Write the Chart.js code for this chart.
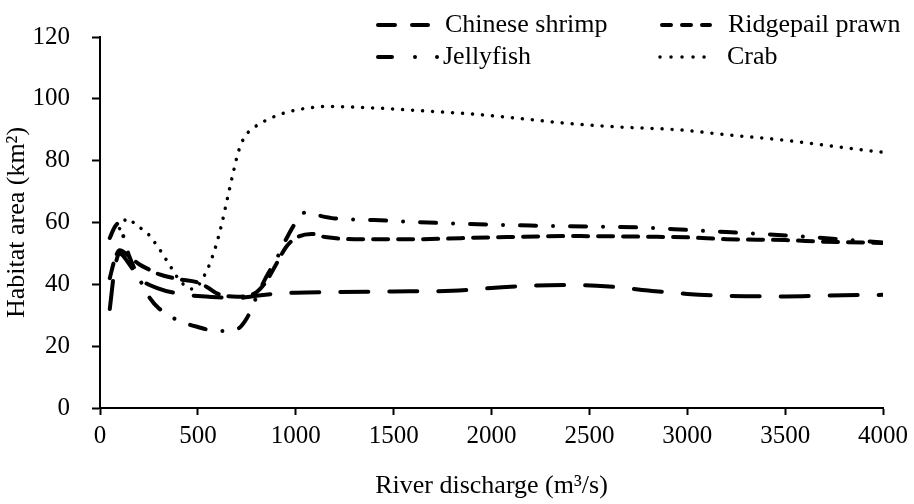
<!DOCTYPE html>
<html>
<head>
<meta charset="utf-8">
<script src="https://cdn.jsdelivr.net/npm/chart.js@4.4.1/dist/chart.umd.min.js"></script>
<style>
  html, body { margin: 0; padding: 0; background: #fff; }
  #wrap { width: 914px; height: 504px; }
</style>
</head>
<body>
<div id="wrap"><canvas id="chart" width="914" height="504"></canvas></div>
<script>
/* ---------- Data ---------- */
const seriesNames = ["Chinese shrimp", "Ridgepail prawn", "Jellyfish", "Crab"];

const shrimpQ    = [50, 75, 100, 150, 200, 300, 400, 500, 600, 700, 800, 900, 1000, 1200, 1500, 1800, 2000, 2200, 2400, 2600, 2800, 3000, 3200, 3500, 3800, 4000];
const shrimpArea = [32, 45, 50, 46.5, 42, 38.6, 37, 36.2, 35.8, 35.6, 36.3, 37, 37.3, 37.5, 37.7, 37.9, 38.8, 39.6, 39.8, 39.3, 38, 36.9, 36.3, 36.1, 36.5, 36.6];

const prawnQ    = [50, 75, 100, 150, 200, 250, 300, 400, 500, 550, 600, 700, 800, 850, 900, 950, 1000, 1080, 1150, 1300, 1600, 2000, 2400, 2800, 3000, 3200, 3500, 3700, 4000];
const prawnArea = [42, 48, 51, 49, 46.5, 44.8, 43.3, 41.7, 40.6, 39, 37, 36, 37.5, 41, 46.5, 52, 55, 56.3, 55.3, 54.6, 54.6, 55.2, 55.6, 55.4, 55.2, 54.6, 54.3, 53.8, 53.4];

const jellyQ    = [50, 75, 100, 125, 150, 200, 250, 300, 400, 500, 600, 700, 750, 800, 850, 900, 950, 1000, 1050, 1100, 1200, 1400, 1600, 1800, 2000, 2200, 2400, 2600, 2800, 3000, 3200, 3400, 3600, 3800, 4000];
const jellyArea = [55, 58.5, 60, 54, 49, 42, 36, 32.3, 28.3, 26.2, 24.9, 25.5, 29, 36, 42.5, 48, 54.5, 60, 63.3, 62.5, 61.3, 60.8, 60.2, 59.7, 59.3, 59, 58.8, 58.6, 58.3, 57.6, 56.9, 56.2, 55.4, 54.5, 53.5];

const crabQ    = [100, 140, 180, 220, 250, 280, 310, 340, 370, 400, 430, 470, 500, 530, 560, 590, 620, 650, 680, 710, 740, 780, 860, 950, 1050, 1150, 1250, 1450, 1650, 1900, 2150, 2400, 2650, 2950, 3200, 3500, 3750, 4000];
const crabArea = [58, 61.3, 59.5, 57.6, 56, 53.5, 50.8, 47.8, 44.8, 41.8, 39.8, 38.5, 39.5, 42.5, 46.5, 52, 59, 67.5, 76, 83.5, 87.8, 90.4, 93.4, 95.6, 96.9, 97.5, 97.4, 96.9, 96.1, 95.1, 93.6, 92, 90.9, 90, 88.4, 86.6, 84.6, 82.7];

const xTicks = [0, 500, 1000, 1500, 2000, 2500, 3000, 3500, 4000];
const yTicks = [0, 20, 40, 60, 80, 100, 120];

/* ---------- Helpers ---------- */
const FONT = "'Liberation Serif', 'Times New Roman', serif";

function pairs(xs, ys) {
  return xs.map((x, i) => ({x: x, y: ys[i]}));
}

// line look per series: width, dash pattern (round caps)
const STYLE = [
  {width: 4,   dash: [28, 21]},
  {width: 4,   dash: [15, 10]},
  {width: 4,   dash: [16, 17, 0.01, 17]},
  {width: 3.5, dash: [0.01, 10]}
];

// legend placed inside the plot, two columns
const LEGEND_POS = [
  {x1: 378, x2: 428, y: 25, tx: 445, dash: [17, 17]},
  {x1: 662, x2: 710, y: 25, tx: 728, dash: [9, 11]},
  {x1: 378, x2: 438, y: 57, tx: 443, dash: [14, 23, 0.01, 22, 0.01, 100]},
  {x1: 660, x2: 715, y: 57, tx: 727, dash: [0.01, 11]}
];

const insideLegend = {
  id: "insideLegend",
  afterDraw(chart) {
    const ctx = chart.ctx;
    ctx.save();
    LEGEND_POS.forEach((p, i) => {
      ctx.strokeStyle = "#000";
      ctx.lineWidth = STYLE[i].width;
      ctx.lineCap = "round";
      ctx.setLineDash(p.dash);
      ctx.beginPath();
      ctx.moveTo(p.x1, p.y);
      ctx.lineTo(p.x2, p.y);
      ctx.stroke();
      ctx.setLineDash([]);
      ctx.fillStyle = "#000";
      ctx.font = "26px " + FONT;
      ctx.textBaseline = "middle";
      ctx.textAlign = "left";
      ctx.fillText(seriesNames[i], p.tx, p.y);
    });
    ctx.restore();
  }
};

/* ---------- Chart ---------- */
const seriesData = [
  pairs(shrimpQ, shrimpArea),
  pairs(prawnQ, prawnArea),
  pairs(jellyQ, jellyArea),
  pairs(crabQ, crabArea)
];

new Chart(document.getElementById("chart"), {
  type: "line",
  data: {
    datasets: seriesData.map((d, i) => ({
      label: seriesNames[i],
      data: d,
      borderColor: "#000",
      borderWidth: STYLE[i].width,
      borderDash: STYLE[i].dash,
      borderCapStyle: "round",
      borderJoinStyle: "round",
      pointRadius: 0,
      fill: false,
      cubicInterpolationMode: "monotone"
    }))
  },
  options: {
    responsive: false,
    animation: false,
    devicePixelRatio: 1,
    layout: { padding: {top: 15, right: 29, left: 0, bottom: 0} },
    plugins: {
      legend: { display: false },
      tooltip: { enabled: false }
    },
    scales: {
      x: {
        type: "linear",
        min: 0,
        max: 4000,
        afterBuildTicks: s => { s.ticks = xTicks.map(v => ({value: v})); },
        afterFit: s => { s.height = 96; },
        ticks: {
          color: "#000",
          font: {family: FONT, size: 25},
          padding: 6,
          maxRotation: 0,
          callback: v => String(v)
        },
        grid: { drawOnChartArea: false, drawTicks: true, tickLength: 7, tickWidth: 2, tickColor: "#000" },
        border: { color: "#000", width: 2 },
        title: {
          display: true,
          text: "River discharge (m³/s)",
          color: "#000",
          font: {family: FONT, size: 26},
          padding: {top: 0, bottom: 2}
        }
      },
      y: {
        min: 0,
        max: 120,
        afterBuildTicks: s => { s.ticks = yTicks.map(v => ({value: v})); },
        afterFit: s => { s.width = 100; },
        ticks: {
          color: "#000",
          font: {family: FONT, size: 25},
          padding: 22,
          callback: v => String(v)
        },
        grid: { drawOnChartArea: false, drawTicks: true, tickLength: 8, tickWidth: 2, tickColor: "#000" },
        border: { color: "#000", width: 2 },
        title: {
          display: true,
          text: "Habitat area (km²)",
          color: "#000",
          font: {family: FONT, size: 26},
          padding: {top: 2, bottom: 0}
        }
      }
    }
  },
  plugins: [insideLegend]
});
</script>
</body>
</html>
